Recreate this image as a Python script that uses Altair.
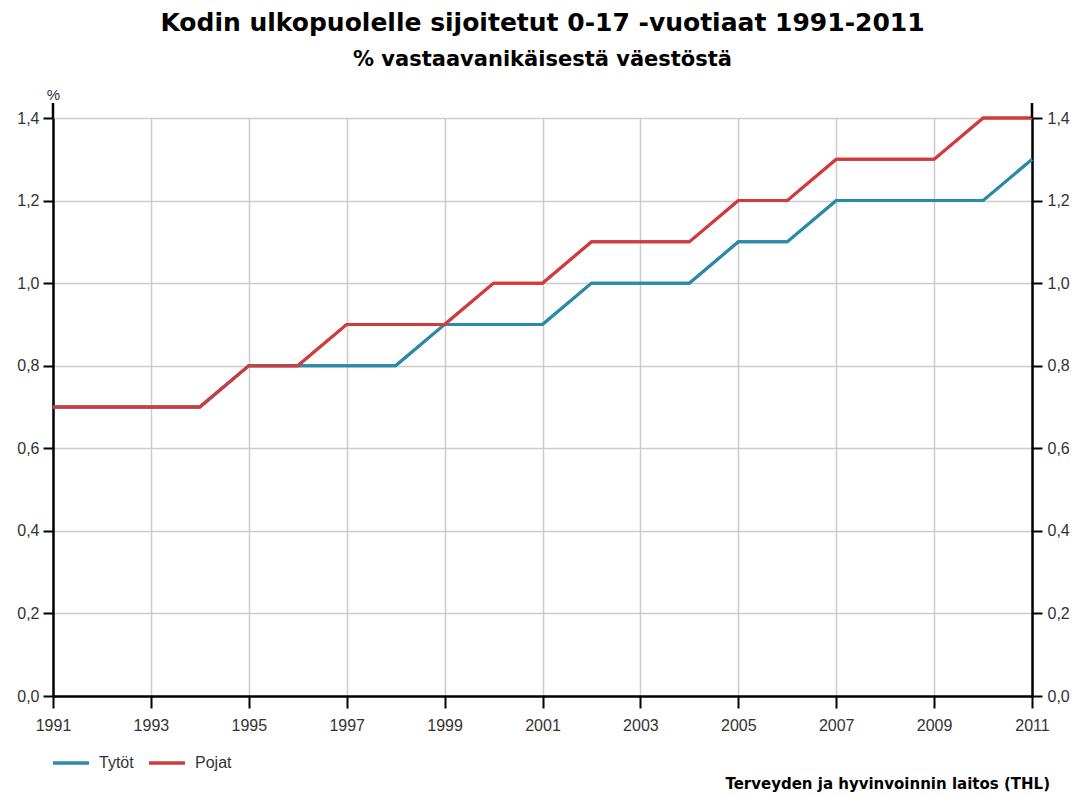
import altair as alt
import pandas as pd

years = list(range(1991, 2012))
tytot = [0.7, 0.7, 0.7, 0.7, 0.8, 0.8, 0.8, 0.8, 0.9, 0.9, 0.9, 1.0, 1.0, 1.0, 1.1, 1.1, 1.2, 1.2, 1.2, 1.2, 1.3]
pojat = [0.7, 0.7, 0.7, 0.7, 0.8, 0.8, 0.9, 0.9, 0.9, 1.0, 1.0, 1.1, 1.1, 1.1, 1.2, 1.2, 1.3, 1.3, 1.3, 1.4, 1.4]
series_names = ["Tytöt", "Pojat"]
series_colors = ["#2b8aa9", "#d23b3c"]
x_ticks = list(range(1991, 2012, 2))
y_ticks = [0.0, 0.2, 0.4, 0.6, 0.8, 1.0, 1.2, 1.4]
title = "Kodin ulkopuolelle sijoitetut 0-17 -vuotiaat 1991-2011"
subtitle = "% vastaavanikäisestä väestöstä"
source = "Terveyden ja hyvinvoinnin laitos (THL)"

rows = []
for name, vals in zip(series_names, [tytot, pojat]):
    for y, v in zip(years, vals):
        rows.append({"year": y, "value": v, "series": name})
df = pd.DataFrame(rows)

FONT = "Liberation Sans"
BFONT = "DejaVu Sans"
W, H = 979, 578
LS = 16
label_expr = "replace(format(datum.value, '.1f'), '.', ',')"

x_enc = alt.X("year:Q", scale=alt.Scale(domain=[1991, 2011], nice=False, zero=False),
              axis=alt.Axis(values=x_ticks, format="d", title=None, grid=True,
                            gridColor="#cccccc", gridWidth=1.5,
                            domainColor="#000000", domainWidth=2.5,
                            tickColor="#000000", tickWidth=2, tickSize=12,
                            labelFont=FONT, labelFontSize=LS, labelColor="#333333",
                            labelPadding=9, labelFlush=False, labelOverlap=False))

base = alt.Chart(df)

left = base.mark_line(strokeWidth=3).encode(
    x=x_enc,
    y=alt.Y("value:Q", scale=alt.Scale(domain=[0, 1.4], nice=False),
            axis=alt.Axis(values=y_ticks, labelExpr=label_expr, title="%",
                          titleAngle=0, titleX=0, titleY=-16, titleAlign="center",
                          titleBaseline="bottom",
                          titleFont=FONT, titleFontSize=15, titleFontWeight="normal",
                          titleColor="#333333", grid=True, gridColor="#cccccc", gridWidth=1.5,
                          domainColor="#000000", domainWidth=2.5,
                          tickColor="#000000", tickWidth=2, tickSize=10,
                          labelFont=FONT, labelFontSize=LS, labelColor="#333333",
                          labelPadding=4, labelFlush=False)),
    color=alt.Color("series:N", scale=alt.Scale(domain=series_names, range=series_colors),
                    sort=series_names,
                    legend=alt.Legend(title=None, orient="none", legendX=-2, legendY=625,
                                      direction="horizontal", symbolType="stroke",
                                      symbolSize=1296, symbolStrokeWidth=3.5,
                                      labelFont=FONT, labelFontSize=LS, labelColor="#333333",
                                      labelOffset=8, columnPadding=8, padding=0)),
)

right = base.mark_line(strokeWidth=3).encode(
    x=x_enc,
    y=alt.Y("value:Q", scale=alt.Scale(domain=[0, 1.4], nice=False),
            axis=alt.Axis(orient="right", values=y_ticks, labelExpr=label_expr, title=None,
                          grid=False, domainColor="#000000", domainWidth=2.5,
                          tickColor="#000000", tickWidth=2, tickSize=10,
                          labelFont=FONT, labelFontSize=LS, labelColor="#333333",
                          labelPadding=5, labelFlush=False)),
    color=alt.Color("series:N", scale=alt.Scale(domain=series_names, range=series_colors),
                    sort=series_names, legend=None),
)

ext_df = pd.DataFrame({"k": [0]})
ext_left = alt.Chart(ext_df).mark_rule(color="#000000", strokeWidth=2.5).encode(
    x=alt.value(0), y=alt.value(-15), y2=alt.value(0))
ext_right = alt.Chart(ext_df).mark_rule(color="#000000", strokeWidth=2.5).encode(
    x=alt.value(W), y=alt.value(-15), y2=alt.value(0))

src = alt.Chart(pd.DataFrame({"t": [source]})).mark_text(
    font=BFONT, fontSize=15, fontWeight="bold", align="right", baseline="middle",
    color="#000000").encode(text="t:N", x=alt.value(997), y=alt.value(666))

chart = alt.layer(left, right, ext_left, ext_right, src).resolve_scale(
    y="independent"
).properties(
    width=W, height=H,
    title=alt.TitleParams(text=title, subtitle=subtitle, font=BFONT, fontSize=25,
                          fontWeight="bold", color="#000000",
                          subtitleFont=BFONT, subtitleFontSize=21, subtitleFontWeight="bold",
                          subtitleColor="#000000", subtitlePadding=13,
                          anchor="middle", offset=17),
    autosize=alt.AutoSizeParams(type="none"),
    padding={"left": 45, "top": 110, "right": 44, "bottom": 100},
).configure_view(stroke=None).configure(background="#ffffff")

chart.save("out.html", embed_options={"renderer": "svg", "actions": False})
